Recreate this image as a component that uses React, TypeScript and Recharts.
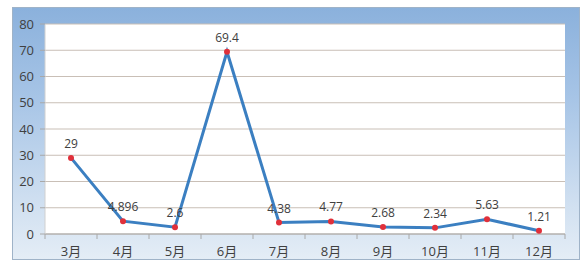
import { LineChart, Line, XAxis, YAxis, CartesianGrid, LabelList } from "recharts";

const months = ["3月", "4月", "5月", "6月", "7月", "8月", "9月", "10月", "11月", "12月"];
const values = [29, 4.896, 2.6, 69.4, 4.38, 4.77, 2.68, 2.34, 5.63, 1.21];
const yTicks = [0, 10, 20, 30, 40, 50, 60, 70, 80];

const data = months.map((m, i) => ({ month: m, value: values[i] }));

const FONT = "'Open Sans', 'Noto Sans CJK SC', sans-serif";

// x tick: label at category centre, tick marks at band edges
function MonthTick(props: any) {
  const { x, y, payload, index, visibleTicksCount } = props;
  const half = 26;
  const last = index === (visibleTicksCount ?? months.length) - 1;
  return (
    <g>
      <line x1={x - half} x2={x - half} y1={y} y2={y + 5} stroke="#a8a8a8" />
      {last && <line x1={x + half} x2={x + half} y1={y} y2={y + 5} stroke="#a8a8a8" />}
      <text x={x} y={y + 19} textAnchor="middle" dominantBaseline="middle" fill="#404040" fontSize={13} fontFamily={FONT}>
        {payload.value}
      </text>
    </g>
  );
}

export default function App() {
  return (
    <div style={{ position: "fixed", left: 0, top: 0, width: 583, height: 261, background: "#fff" }}>
      <div
        style={{
          position: "absolute",
          left: 12,
          top: 7,
          width: 566,
          height: 251,
          border: "1px solid #9fb3c8",
          background: "linear-gradient(to bottom, #8bb1dc 0%, #a6c4e6 35%, #d2e1f1 80%, #e4edf6 100%)",
        }}
      />
      <div style={{ position: "absolute", left: 0, top: 0 }}>
        <LineChart width={583} height={261} data={data} margin={{ top: 24, right: 18, bottom: 0, left: 11 }}>
          <CartesianGrid vertical={false} stroke="#c9bfb6" fill="#ffffff" />
          <XAxis
            dataKey="month"
            height={27}
            padding={{ left: 26, right: 26 }}
            axisLine={{ stroke: "#a8a8a8" }}
            tickLine={false}
            tickSize={0}
            tickMargin={0}
            tick={<MonthTick />}
            interval={0}
          />
          <YAxis
            width={34}
            domain={[0, 80]}
            ticks={yTicks}
            interval={0}
            axisLine={{ stroke: "#d0d0d0" }}
            tickLine={{ stroke: "#a8a8a8" }}
            tickSize={5}
            tickMargin={6}
            tick={{ fill: "#404040", fontSize: 13, fontFamily: FONT }}
          />
          <Line
            type="linear"
            dataKey="value"
            stroke="#3b7fc1"
            strokeWidth={3}
            dot={{ r: 3, fill: "#e0303a", stroke: "none" }}
            isAnimationActive={false}
          >
            <LabelList dataKey="value" position="top" offset={10} fill="#404040" fontSize={12} fontFamily={FONT} />
          </Line>
        </LineChart>
      </div>
    </div>
  );
}
